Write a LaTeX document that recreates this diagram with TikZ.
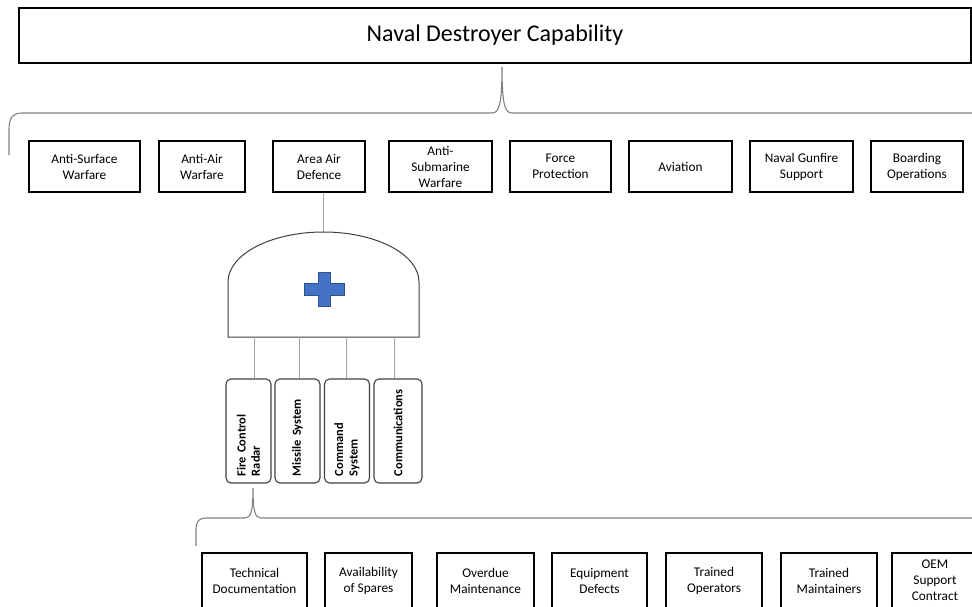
\documentclass[tikz,border=0pt]{standalone}
\usepackage{fontspec}
\setmainfont{Carlito}
\usetikzlibrary{positioning,calc}
\definecolor{kreuzblau}{HTML}{4472C4}
\definecolor{kreuzrand}{HTML}{2F528F}
\definecolor{klammergrau}{HTML}{808080}
\definecolor{liniengrau}{HTML}{A6A6A6}
\definecolor{randgrau}{HTML}{404040}
\begin{document}
\begin{tikzpicture}[x=1pt,y=-1pt,
  fachbox/.style={draw=black,line width=1.3pt,align=center,inner sep=0pt,font=\fontsize{13.3}{16}\selectfont},
  sysbox/.style={draw=randgrau,line width=1.1pt,rounded corners=5pt,rotate=90,text width=90pt,align=left,
                 inner xsep=7pt,inner ysep=0pt,minimum height=45pt,font=\bfseries\fontsize{12.4}{14.3}\selectfont},
  klammer/.style={draw=klammergrau,line width=1.1pt},
  verbinder/.style={draw=liniengrau,line width=1pt}]
\useasboundingbox (0,0) rectangle (972,606);
\clip (0,0) rectangle (972,606);
% oberste Ebene
\node[draw=black,line width=1.3pt,minimum width=952pt,minimum height=55pt,inner sep=0pt,
      font=\fontsize{24}{28}\selectfont] (cap) at (495,35.5) {\raisebox{-2.5pt}{Naval Destroyer Capability}};
\coordinate (spitze1) at (502,67);
\draw[klammer] (9,155) -- (9,130) .. controls (9,117) and (13,113) .. (22,113) -- (492,113)
  .. controls (499,113) and (502,105) .. (spitze1) .. controls (502,105) and (505,113) .. (512,113) -- (975,113);
% Faehigkeiten
\foreach \nm/\cx/\bw/\beschr in {answ/84.5/111/{Anti-Surface\\Warfare},aaw/202/86/{Anti-Air\\Warfare},
    aad/319/92/{Area Air\\Defence},asub/440.5/103/{Anti-\\Submarine\\Warfare},fp/560.5/101/{Force\\Protection},
    avn/680.5/103/{Aviation},ngs/801.5/103/{Naval Gunfire\\Support},bop/917/92/{Boarding\\Operations}}
  \node[fachbox,minimum width=\bw pt,minimum height=51pt] (\nm) at (\cx,166.5) {\beschr};
% Verknuepfung (Kuppel mit Kreuz)
\coordinate (kuppel) at (323.5,232);
\draw[verbinder] (aad.south -| kuppel) -- (kuppel);
\draw[draw=randgrau,line width=1pt,fill=white] (228,337) -- (228,282)
  .. controls (228,254.4) and (270.8,232) .. (kuppel) .. controls (376.2,232) and (419,254.4) .. (419,282)
  -- (419,337) -- cycle;
\draw[draw=kreuzrand,fill=kreuzblau,line width=0.8pt] (318,272) -- (330,272) -- (330,283) -- (344,283) -- (344,295)
  -- (330,295) -- (330,306) -- (318,306) -- (318,295) -- (304,295) -- (304,283) -- (318,283) -- cycle;
% Systeme
\node[sysbox] (frc) at (248.5,431) {Fire Control\\Radar};
\node[sysbox] (msl) at (297.5,431) {Missile System};
\node[sysbox] (cmd) at (347,431) {Command\\System};
\node[sysbox,minimum height=48pt] (com) at (398,431) {Communications};
\foreach \px/\ziel in {254/frc,299/msl,346/cmd,394/com}{
  \coordinate (k\ziel) at (\px,337);
  \draw[verbinder] (k\ziel) -- (k\ziel |- \ziel.east);
}
% Unterstuetzungsfaktoren
\coordinate (spitze2) at (253,488);
\draw[klammer] (196,546) -- (196,530) .. controls (196,521) and (199,518) .. (206,518) -- (245,518)
  .. controls (251,518) and (253,511) .. (spitze2) .. controls (253,511) and (255,518) .. (261,518) -- (975,518);
\foreach \nm/\cx/\bw/\beschr in {tdoc/254.5/105/{Technical\\Documentation},spar/368.5/87/{Availability\\of Spares},
    ovdm/485.5/97/{Overdue\\Maintenance},eqdf/599.5/95/{Equipment\\Defects},trop/714/96/{Trained\\Operators},
    trmt/829/96/{Trained\\Maintainers},oem/935/86/{OEM\\Support\\Contract}}
  \node[fachbox,minimum width=\bw pt,minimum height=55pt] (\nm) at (\cx,580.5) {\beschr};
\end{tikzpicture}
\end{document}
